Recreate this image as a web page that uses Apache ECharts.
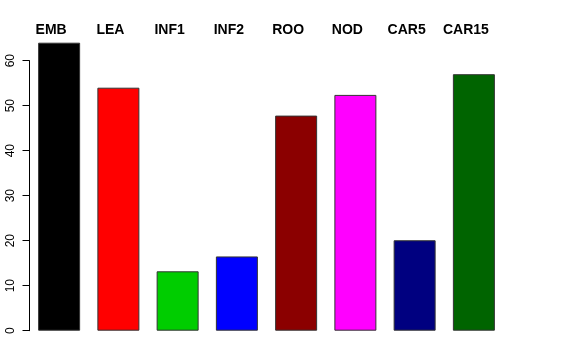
<!DOCTYPE html>
<html><head><meta charset="utf-8">
<script src="https://cdn.jsdelivr.net/npm/echarts@6/dist/echarts.min.js"></script>
<style>html,body{margin:0;padding:0;background:#fff}#c{width:576px;height:360px}</style>
</head><body><div id="c"></div>
<script>
var categories = ["EMB","LEA","INF1","INF2","ROO","NOD","CAR5","CAR15"];
var values = [64.0, 54.0, 13.2, 16.5, 47.8, 52.4, 20.1, 57.0];
var barColors = ["#000000","#FF0000","#00CD00","#0000FF","#8B0000","#FF00FF","#000080","#006400"];
var yTicks = [0,10,20,30,40,50,60];

var chart = echarts.init(document.getElementById('c'), null, {renderer:'canvas'});
chart.setOption({
  animation:false,
  backgroundColor:'#fff',
  grid:{left:29.5, right:72.5, top:60.7, bottom:29.3},
  xAxis:{
    type:'category', data:categories, position:'top',
    axisLine:{show:false}, axisTick:{show:false},
    axisLabel:{fontFamily:'Liberation Sans', fontWeight:'bold', fontSize:14, color:'#000',
      margin:24, padding:[0,16,0,0], interval:0}
  },
  yAxis:{
    type:'value', min:yTicks[0], max:yTicks[yTicks.length-1], interval:10,
    splitLine:{show:false},
    axisLine:{show:true, lineStyle:{color:'#000', width:1}},
    axisTick:{show:true, length:7, lineStyle:{color:'#000'}},
    axisLabel:{rotate:90, fontFamily:'Liberation Sans', fontSize:12, color:'#000', margin:13}
  },
  series:[{
    type:'bar', barWidth:42, clip:false,
    data: values.map(function(v,i){return {value:v, itemStyle:{color:barColors[i]}};}),
    itemStyle:{borderColor:'#333', borderWidth:1}
  }]
});
</script></body></html>
